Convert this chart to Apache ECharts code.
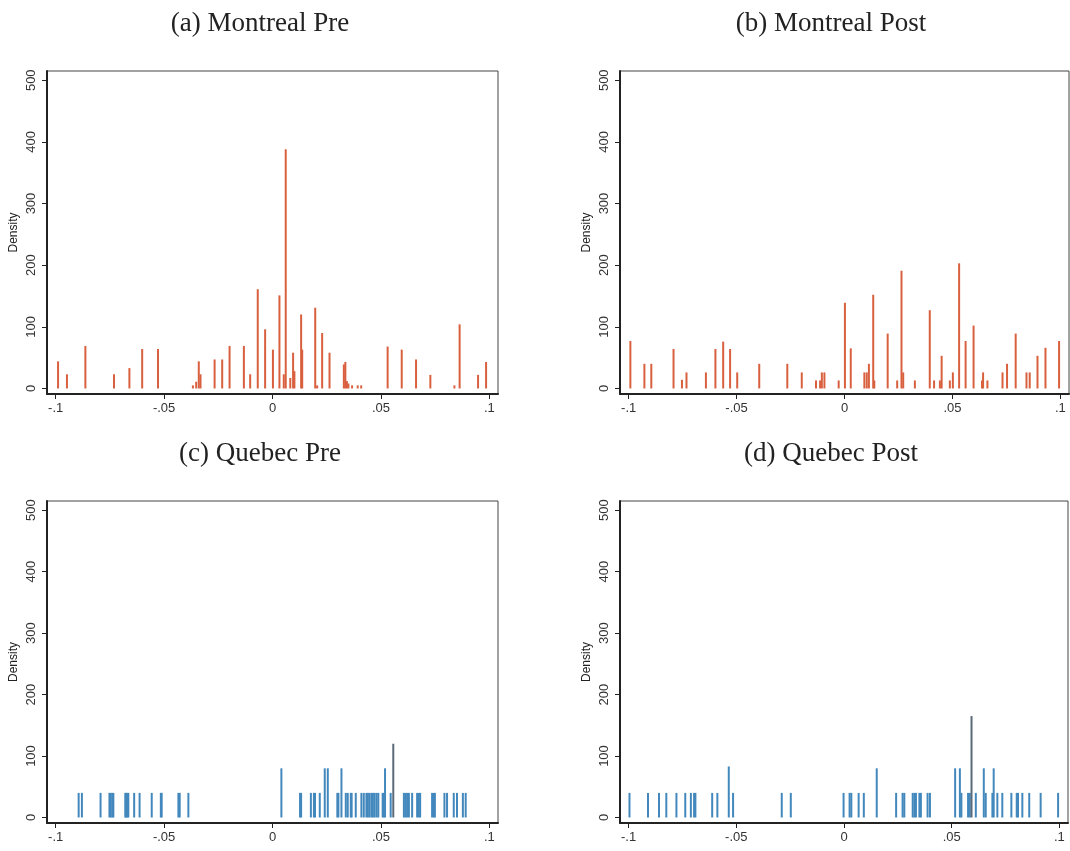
<!DOCTYPE html>
<html>
<head>
<meta charset="utf-8">
<script src="https://cdn.jsdelivr.net/npm/echarts@6/dist/echarts.min.js"></script>
<style>
  html, body { margin: 0; padding: 0; background: #fff; }
  #chart { width: 1070px; height: 851px; }
</style>
</head>
<body>
<div id="chart"></div>
<script>
// Panel titles
const panelTitles = ['(a) Montreal Pre', '(b) Montreal Post', '(c) Quebec Pre', '(d) Quebec Post'];

// Axis ticks
const xTickValues = [-0.1, -0.05, 0, 0.05, 0.1];
const xTickLabels = ['-.1', '-.05', '0', '.05', '.1'];
const yTickValues = [0, 100, 200, 300, 400, 500];
const yTickLabels = ['0', '100', '200', '300', '400', '500'];

// Montreal, pre period: bin positions and densities
const montrealPreX = [-0.0989, -0.0948, -0.0863, -0.0731, -0.0660, -0.0601, -0.0528, -0.0367, -0.0352, -0.0340,
  -0.0332, -0.0267, -0.0232, -0.0198, -0.0132, -0.0103, -0.0068, -0.0034, 0.0002, 0.0032,
  0.0052, 0.0061, 0.0082, 0.0095, 0.0101, 0.0132, 0.0137, 0.0197, 0.0206, 0.0229,
  0.0263, 0.0329, 0.0336, 0.0343, 0.0350, 0.0367, 0.0393, 0.0409, 0.0531, 0.0596,
  0.0662, 0.0728, 0.0839, 0.0863, 0.0948, 0.0985];
const montrealPreY = [44, 23, 69, 23, 33, 64, 64, 5, 11, 44,
  23, 47, 47, 69, 69, 23, 161, 96, 63, 151,
  23, 388, 17, 58, 28, 120, 63, 131, 5, 90,
  58, 39, 43, 12, 8, 5, 5, 5, 68, 63,
  47, 22, 5, 104, 22, 43];

// Montreal, post period
const montrealPostX = [-0.0992, -0.0927, -0.0895, -0.0792, -0.0753, -0.0732, -0.0642, -0.0598, -0.0562, -0.0530,
  -0.0497, -0.0395, -0.0265, -0.0198, -0.0132, -0.0113, -0.0105, -0.0093, -0.0027, 0.0002,
  0.0029, 0.0092, 0.0103, 0.0113, 0.0133, 0.0138, 0.0200, 0.0244, 0.0264, 0.0272,
  0.0326, 0.0395, 0.0415, 0.0442, 0.0450, 0.0488, 0.0502, 0.0531, 0.0561, 0.0598,
  0.0637, 0.0642, 0.0662, 0.0732, 0.0753, 0.0793, 0.0843, 0.0858, 0.0894, 0.0931,
  0.0994];
const montrealPostY = [77, 40, 40, 64, 14, 26, 26, 64, 76, 64,
  26, 40, 40, 26, 13, 13, 26, 26, 13, 139,
  65, 26, 26, 40, 152, 13, 89, 13, 191, 26,
  13, 127, 13, 13, 53, 13, 26, 203, 77, 102,
  13, 26, 13, 26, 40, 89, 26, 26, 53, 66,
  77];

// Quebec, pre period
const quebecPreX = [-0.0894, -0.0879, -0.0793, -0.0752, -0.0746, -0.0739, -0.0734, -0.0679, -0.0675, -0.0670,
  -0.0665, -0.0638, -0.0613, -0.0557, -0.0515, -0.0511, -0.0434, -0.0428, -0.0388, 0.0041,
  0.0127, 0.0132, 0.0177, 0.0191, 0.0196, 0.0218, 0.0241, 0.0255, 0.0299, 0.0304,
  0.0318, 0.0338, 0.0347, 0.0361, 0.0365, 0.0384, 0.0410, 0.0421, 0.0433, 0.0440,
  0.0448, 0.0457, 0.0463, 0.0471, 0.0480, 0.0488, 0.0508, 0.0513, 0.0519, 0.0545,
  0.0557, 0.0606, 0.0614, 0.0621, 0.0629, 0.0644, 0.0667, 0.0675, 0.0681, 0.0736,
  0.0744, 0.0749, 0.0793, 0.0805, 0.0836, 0.0851, 0.0878, 0.0891];
const quebecPreY = [40, 40, 40, 40, 40, 40, 40, 40, 40, 40,
  40, 40, 40, 40, 40, 40, 40, 40, 40, 80,
  40, 40, 40, 40, 40, 40, 80, 80, 40, 40,
  80, 40, 40, 40, 40, 40, 40, 40, 40, 40,
  40, 40, 40, 40, 40, 40, 40, 40, 80, 40,
  120, 40, 40, 40, 40, 40, 40, 40, 40, 40,
  40, 40, 40, 40, 40, 40, 40, 40];

// Quebec, post period
const quebecPostX = [-0.0996, -0.0910, -0.0859, -0.0825, -0.0778, -0.0737, -0.0711, -0.0696, -0.0690, -0.0612,
  -0.0588, -0.0535, -0.0515, -0.0289, -0.0247, -0.0002, 0.0026, 0.0034, 0.0068, 0.0092,
  0.0152, 0.0242, 0.0272, 0.0280, 0.0319, 0.0327, 0.0334, 0.0350, 0.0357, 0.0388,
  0.0399, 0.0516, 0.0538, 0.0545, 0.0576, 0.0584, 0.0592, 0.0612, 0.0649, 0.0658,
  0.0689, 0.0695, 0.0712, 0.0735, 0.0777, 0.0802, 0.0808, 0.0828, 0.0860, 0.0913,
  0.0994];
const quebecPostY = [40, 40, 40, 40, 40, 40, 40, 40, 40, 40,
  40, 83, 40, 40, 40, 40, 40, 40, 40, 40,
  80, 40, 40, 40, 40, 40, 40, 40, 40, 40,
  40, 80, 80, 40, 40, 40, 165, 40, 80, 40,
  40, 80, 40, 40, 40, 40, 40, 40, 40, 40,
  40];

const panelX = [montrealPreX, montrealPostX, quebecPreX, quebecPostX];
const panelY = [montrealPreY, montrealPostY, quebecPreY, quebecPostY];

const RED = '#d9603f';
const BLUE = '#4388bd';
const panelColors = [RED, RED, BLUE, BLUE];

const grids = [
  { left: 47, top: 71, width: 451, height: 323 },
  { left: 620, top: 71, width: 449, height: 323 },
  { left: 47, top: 501, width: 451, height: 322 },
  { left: 620, top: 501, width: 448, height: 322 }
];
const titlePos = [
  { left: 255, top: 5 },
  { left: 826, top: 5 },
  { left: 255, top: 435 },
  { left: 826, top: 435 }
];

const labelFont = 'Liberation Sans, Arial, sans-serif';

const option = {
  backgroundColor: '#ffffff',
  animation: false,
  title: panelTitles.map((t, i) => ({
    text: t,
    left: titlePos[i].left,
    top: titlePos[i].top,
    textAlign: 'center',
    textStyle: { fontFamily: 'Liberation Serif, Times New Roman, serif', fontSize: 27, fontWeight: 'normal', color: '#222' }
  })),
  grid: grids.map(g => Object.assign({ show: true, borderColor: '#444', borderWidth: 1, backgroundColor: 'transparent' }, g)),
  xAxis: grids.map((g, i) => ({
    type: 'value',
    gridIndex: i,
    min: -0.104,
    max: 0.104,
    axisLine: { onZero: false, lineStyle: { color: '#222', width: 2 } },
    axisTick: { show: true, customValues: xTickValues, length: 5, lineStyle: { color: '#222', width: 1 } },
    axisLabel: {
      customValues: xTickValues,
      formatter: v => {
        const k = xTickValues.findIndex(t => Math.abs(t - v) < 1e-9);
        return k >= 0 ? xTickLabels[k] : '';
      },
      fontFamily: labelFont, fontSize: 13, color: '#333', margin: 8
    },
    splitLine: { show: false }
  })),
  yAxis: grids.map((g, i) => ({
    type: 'value',
    gridIndex: i,
    min: -9,
    max: 515,
    name: 'Density',
    nameLocation: 'middle',
    nameRotate: 90,
    nameGap: 27,
    nameTextStyle: { fontFamily: labelFont, fontSize: 12, color: '#222' },
    axisLine: { onZero: false, lineStyle: { color: '#222', width: 2 } },
    axisTick: { show: true, customValues: yTickValues, length: 5, lineStyle: { color: '#222', width: 1 } },
    axisLabel: {
      customValues: yTickValues,
      rotate: 90,
      formatter: v => {
        const k = yTickValues.findIndex(t => Math.abs(t - v) < 1e-9);
        return k >= 0 ? yTickLabels[k] : '';
      },
      fontFamily: labelFont, fontSize: 13, color: '#333', margin: 9
    },
    splitLine: { show: false }
  })),
  series: panelX.map((xs, i) => ({
    type: 'bar',
    xAxisIndex: i,
    yAxisIndex: i,
    barWidth: 2,
    itemStyle: {
      color: p => (i >= 2 && p.value[1] > 100) ? '#5a6a78' : panelColors[i]
    },
    data: xs.map((x, k) => [x, panelY[i][k]])
  }))
};

const chart = echarts.init(document.getElementById('chart'), null, { renderer: 'canvas' });
chart.setOption(option);
</script>
</body>
</html>
